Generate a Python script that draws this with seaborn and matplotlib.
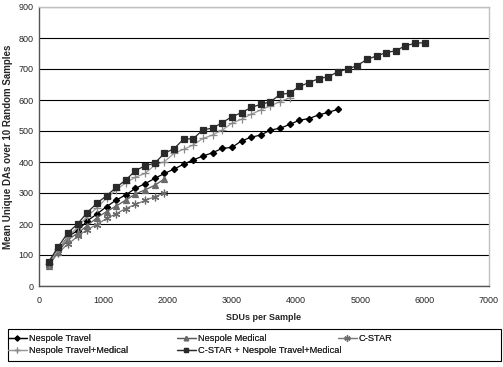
import numpy as np
import pandas as pd
import matplotlib
matplotlib.use("Agg")
import matplotlib.pyplot as plt
import matplotlib.patches as mpatches
import seaborn as sns

# SDUs per sample (x steps of 150)
x_travel = np.arange(150, 4651, 150)
x_medical = np.arange(150, 1951, 150)
x_cstar = np.arange(150, 1951, 150)
x_travel_medical = np.arange(150, 3901, 150)
x_all = np.arange(150, 6001, 150)

nespole_travel = [75, 116, 160, 178, 210, 232, 256, 277, 294, 315, 330, 347, 363,
                  377, 393, 407, 419, 430, 444, 447, 468, 480, 487, 503, 509, 521,
                  535, 540, 552, 560, 570]
nespole_medical = [65, 111, 150, 170, 195, 220, 240, 258, 277, 297, 310, 325, 345]
cstar = [68, 108, 135, 160, 182, 198, 218, 233, 250, 263, 276, 288, 300]
nespole_travel_medical = [72, 118, 158, 190, 225, 252, 283, 310, 333, 351, 363, 390,
                          401, 428, 441, 455, 476, 487, 503, 525, 538, 554, 568, 581,
                          595, 607]
cstar_nespole_all = [78, 127, 172, 200, 237, 267, 291, 318, 342, 372, 388, 396, 428,
                     443, 474, 475, 504, 509, 527, 546, 559, 576, 586, 594, 618, 622,
                     644, 656, 669, 675, 691, 700, 711, 731, 742, 753, 759, 775, 783,
                     785]

sns.set_style("white")
plt.rcParams['font.family'] = ['Liberation Sans', 'DejaVu Sans']

fig = plt.figure(figsize=(5.03, 3.67), dpi=100)
ax = fig.add_axes([39 / 503, 81 / 367, 450 / 503, 279 / 367])

series = [
    ("Nespole Travel", x_travel, nespole_travel, "#000000", "D", 3.2, "#000000"),
    ("Nespole Medical", x_medical, nespole_medical, "#5a5a5a", "^", 4.0, "#6a6a6a"),
    ("C-STAR", x_cstar, cstar, "#7a7a7a", (6, 2, 0), 5.5, "#6a6a6a"),
    ("Nespole Travel+Medical", x_travel_medical, nespole_travel_medical, "#999999", "+", 5.5, "#8a8a8a"),
    ("C-STAR + Nespole Travel+Medical", x_all, cstar_nespole_all, "#2a2a2a", "s", 4.0, "#2a2a2a"),
]

handles = {}
for name, xs, ys, col, mk, ms, mcol in series:
    df = pd.DataFrame({"x": xs, "y": ys})
    sns.lineplot(data=df, x="x", y="y", ax=ax, color=col, lw=0.9,
                 marker=mk, markersize=ms, markerfacecolor=mcol,
                 markeredgecolor=mcol, markeredgewidth=0.9, label=name)
    handles[name] = ax.get_lines()[-1]

ax.set_xlim(0, 7000)
ax.set_ylim(0, 900)
ax.set_xticks(range(0, 7001, 1000))
ax.set_yticks(range(0, 901, 100))
ax.yaxis.grid(True, color="black", lw=0.8)
ax.xaxis.grid(False)
ax.set_axisbelow(True)

for s in ["top", "right"]:
    ax.spines[s].set_color("#c0c0c0")
    ax.spines[s].set_linewidth(1.0)
for s in ["left", "bottom"]:
    ax.spines[s].set_color("#555555")
    ax.spines[s].set_linewidth(1.0)

ax.tick_params(axis="y", direction="out", length=3, width=0.8, color="#555555",
               labelsize=6.5, pad=1)
ax.tick_params(axis="x", direction="inout", length=4, width=0.8, color="#555555",
               labelsize=6.5, pad=5)

ax.set_xlabel("SDUs per Sample", fontsize=6.5, fontweight="bold", labelpad=6)
ax.set_ylabel("Mean Unique DAs over 10 Random Samples", fontsize=7,
              fontweight="bold")
ax.yaxis.set_label_coords(-26 / 450, 0.5)

ax.get_legend().remove()

# Excel-style legend: fixed-width columns inside one frame
columns = [
    (8, ["Nespole Travel", "Nespole Travel+Medical"]),
    (177, ["Nespole Medical", "C-STAR + Nespole Travel+Medical"]),
    (338, ["C-STAR"]),
]
for xpos, names in columns:
    leg = fig.legend([handles[n] for n in names], names, loc="upper left",
                     bbox_to_anchor=(xpos / 503, 1 - 334 / 367),
                     fontsize=6.7, frameon=False, borderaxespad=0, borderpad=0,
                     handlelength=2.0, handletextpad=0.25, labelspacing=0.3,
                     markerscale=0.8)
    fig.add_artist(leg)

frame = mpatches.Rectangle((8 / 503, 1 - 361 / 367), 493 / 503, 32 / 367,
                           transform=fig.transFigure, fill=False,
                           edgecolor="black", lw=0.8)
fig.add_artist(frame)

fig.savefig("out.png", dpi=100)
